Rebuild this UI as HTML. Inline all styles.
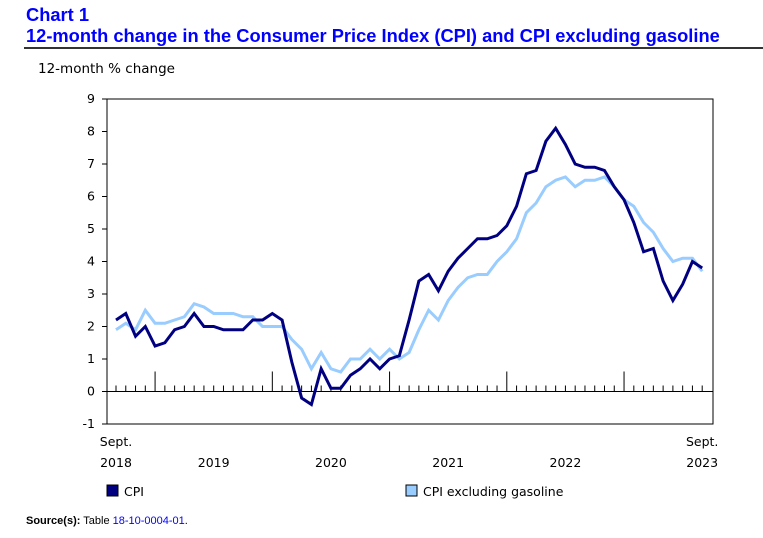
<!DOCTYPE html>
<html><head><meta charset="utf-8"><style>
body{margin:0;width:763px;height:538px;background:#fff;font-family:"Liberation Sans",Verdana,sans-serif;overflow:hidden;position:relative}
.t{position:absolute;left:26px;color:#0000ff;font-weight:bold;font-size:18.3px;line-height:21px}
</style></head><body>
<div class="t" style="top:4px">Chart 1</div>
<div class="t" style="top:25px">12-month change in the Consumer Price Index (CPI) and CPI excluding gasoline</div>
<div style="position:absolute;left:24px;top:47px;width:739px;height:2px;background:#333"></div>
<svg id="c" width="763" height="538" style="position:absolute;left:0;top:0"></svg>
<div style="position:absolute;left:26px;top:515px;font-size:11px;color:#000"><b>Source(s):</b> Table <span style="color:#0000ff">18-10-0004-01</span>.</div>
<script>
const cpi=[2.2,2.4,1.7,2.0,
1.4,1.5,1.9,2.0,2.4,2.0,2.0,1.9,1.9,1.9,2.2,2.2,
2.4,2.2,0.9,-0.2,-0.4,0.7,0.1,0.1,0.5,0.7,1.0,0.7,
1.0,1.1,2.2,3.4,3.6,3.1,3.7,4.1,4.4,4.7,4.7,4.8,
5.1,5.7,6.7,6.8,7.7,8.1,7.6,7.0,6.9,6.9,6.8,6.3,
5.9,5.2,4.3,4.4,3.4,2.8,3.3,4.0,3.8];
const exGas=[1.9,2.1,1.9,2.5,
2.1,2.1,2.2,2.3,2.7,2.6,2.4,2.4,2.4,2.3,2.3,2.0,
2.0,2.0,1.6,1.3,0.7,1.2,0.7,0.6,1.0,1.0,1.3,1.0,
1.3,1.0,1.2,1.9,2.5,2.2,2.8,3.2,3.5,3.6,3.6,4.0,
4.3,4.7,5.5,5.8,6.3,6.5,6.6,6.3,6.5,6.5,6.6,6.3,
5.9,5.7,5.2,4.9,4.4,4.0,4.1,4.1,3.7];
const yTicks=[-1,0,1,2,3,4,5,6,7,8,9];
const years=["2019","2020","2021","2022"];
const NS="http://www.w3.org/2000/svg";
const svg=document.getElementById('c');
const L=107,R=713,T=99,B=424;
const y=v=>T+(9-v)*(B-T)/10;
const x=i=>116+i*9.77;
function el(t,a,p){const e=document.createElementNS(NS,t);for(const k in a)e.setAttribute(k,a[k]);(p||svg).appendChild(e);return e;}
function txt(s,a){const e=el('text',Object.assign({'font-family':'DejaVu Sans, Verdana, sans-serif','font-size':12.5,fill:'#000'},a));e.textContent=s;return e;}
const fr=el('rect',{x:L,y:T,width:R-L,height:B-T,fill:'none',stroke:'#000','stroke-width':1});


const yt=txt('12-month % change',{x:38,y:73,'font-size':13.5});


yTicks.forEach(v=>{
 el('line',{x1:L-5,x2:L,y1:y(v),y2:y(v),stroke:'#000'});
 const t=txt(String(v),{x:L-12,y:y(v)+4,'text-anchor':'end'});
 
 
});
const z=el('line',{x1:L,x2:R,y1:y(0),y2:y(0),stroke:'#000'});


cpi.forEach((v,i)=>{
 const major=(i-4)%12===0&&i>=4;
 el('line',{x1:x(i),x2:x(i),y1:y(0),y2:y(0)-(major?20:6),stroke:'#000'});
});
years.forEach((s,k)=>{
 const t=txt(s,{x:x(4+12*k+6),y:467,'text-anchor':'middle'});
 
 
});
[[0,'2018'],[60,'2023']].forEach(([i,s])=>{
 const a=txt('Sept.',{x:x(i),y:446,'text-anchor':'middle'});
 
 
 const b=txt(s,{x:x(i),y:467,'text-anchor':'middle'});
 
 
});
function line(d,c,n){const p=el('polyline',{points:d.map((v,i)=>x(i)+','+y(v)).join(' '),fill:'none',stroke:c,'stroke-width':3,'stroke-linejoin':'miter'});
 
 }
line(exGas,'#99ccff','cpi-ex-gasoline-line');
line(cpi,'#000080','cpi-line');
function leg(xx,c,s,n){const g=el('g',{});
 
 
 el('rect',{x:xx,y:485,width:11,height:11,fill:c,stroke:'#000','stroke-width':1},g);
 const t=txt(s,{x:xx+17,y:496});g.appendChild(t);}
leg(107,'#000080','CPI','legend-cpi');
leg(406,'#99ccff','CPI excluding gasoline','legend-cpi-ex-gasoline');
</script>
</body></html>
